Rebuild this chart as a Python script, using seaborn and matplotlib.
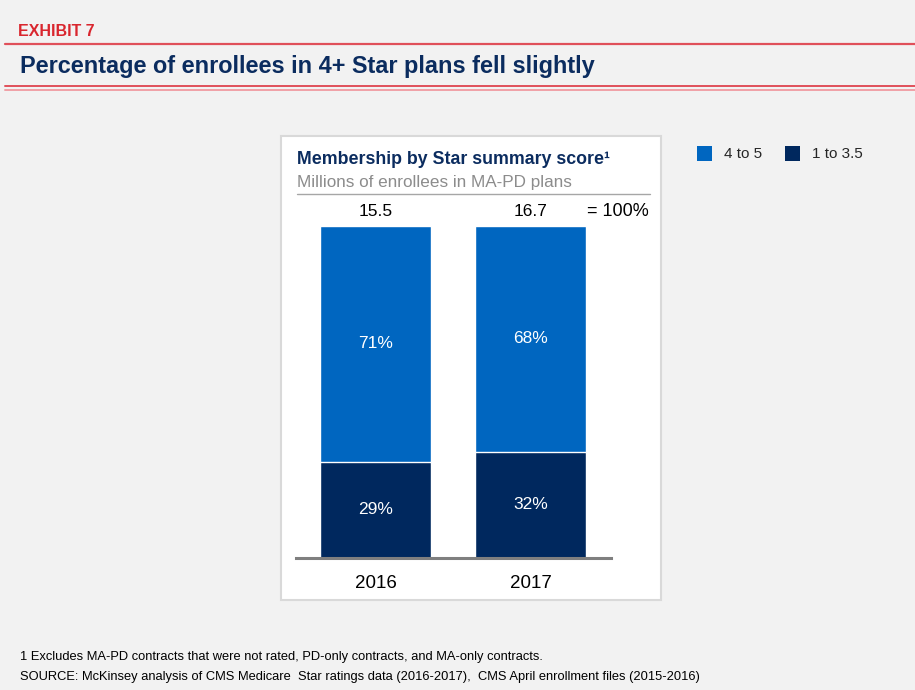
import matplotlib
matplotlib.use("Agg")
import matplotlib.pyplot as plt
from matplotlib.patches import Rectangle
from matplotlib.lines import Line2D
from matplotlib import font_manager
import seaborn as sns
import pandas as pd

# ---- data ----
years = ["2016", "2017"]
totals = [15.5, 16.7]            # millions of enrollees (= 100%)
share_4_to_5 = [71, 68]          # % in 4-5 star plans
share_1_to_35 = [29, 32]         # % in 1-3.5 star plans
series_names = ["4 to 5", "1 to 3.5"]

BLUE = "#0066C0"
NAVY = "#00285E"
TITLE_NAVY = "#0B2C5F"
RED = "#D9262E"

sns.set_theme(style="white")
names = {f.name for f in font_manager.fontManager.ttflist}
base = "Liberation Sans" if "Liberation Sans" in names else "DejaVu Sans"
narrow = "Liberation Sans Narrow" if "Liberation Sans Narrow" in names else base
plt.rcParams["font.family"] = [base, "DejaVu Sans"]

W, H = 915, 690
fig = plt.figure(figsize=(W / 100, H / 100), dpi=100)
fig.patch.set_facecolor("#F2F2F2")

def fx(px):
    return px / W

def fy(py):
    return 1 - py / H

# header
fig.text(fx(18), fy(32), "EXHIBIT 7", color=RED, fontsize=11.5, fontweight="bold",
         family=[narrow, base], va="center", ha="left")
fig.add_artist(Line2D([fx(5), fx(915)], [fy(44), fy(44)], color="#E0505A", lw=1.6))
fig.text(fx(20), fy(67), "Percentage of enrollees in 4+ Star plans fell slightly",
         color=TITLE_NAVY, fontsize=16.9, fontweight="bold", va="center", ha="left")
fig.add_artist(Line2D([fx(5), fx(915)], [fy(86), fy(86)], color="#E0505A", lw=1.4))
fig.add_artist(Line2D([fx(5), fx(915)], [fy(89.5), fy(89.5)], color="#F0A0A6", lw=1.4))

# chart panel
fig.add_artist(Rectangle((fx(281), fy(600)), fx(661) - fx(281), fy(136) - fy(600),
                         transform=fig.transFigure, facecolor="white",
                         edgecolor="#D9D9D9", lw=1.5, zorder=0))
fig.text(fx(297), fy(160), "Membership by Star summary score\u00b9", color=TITLE_NAVY,
         fontsize=12.8, fontweight="bold", va="center", ha="left")
fig.text(fx(297), fy(182), "Millions of enrollees in MA-PD plans", color="#8C8C8C",
         fontsize=12.3, va="center", ha="left")
fig.add_artist(Line2D([fx(297), fx(650)], [fy(194), fy(194)], color="#A6A6A6", lw=1.0))

# axes
ax = fig.add_axes([fx(296), fy(558), fx(611) - fx(296), fy(226) - fy(558)])
ax.set_facecolor("none")

df = pd.DataFrame({"year": years, "total_pct": [a + b for a, b in zip(share_4_to_5, share_1_to_35)],
                   "low": share_1_to_35, "high": share_4_to_5})

sns.barplot(data=df, x="year", y="total_pct", color=BLUE, width=0.716, ax=ax,
            saturation=1, edgecolor="white", linewidth=1.0, zorder=2)
sns.barplot(data=df, x="year", y="low", color=NAVY, width=0.716, ax=ax,
            saturation=1, edgecolor="white", linewidth=1.0, zorder=3)

ax.set_xlim(-0.513, 1.519)
ax.set_ylim(0, 100)
ax.set_xlabel("")
ax.set_ylabel("")
ax.set_yticks([])
ax.tick_params(axis="x", length=0, labelsize=13.5, pad=12, labelcolor="black")
for s in ["top", "left", "right"]:
    ax.spines[s].set_visible(False)
ax.spines["bottom"].set_color("#7F7F7F")
ax.spines["bottom"].set_linewidth(2.2)
ax.spines["bottom"].set_zorder(5)

for i in range(len(years)):
    low = share_1_to_35[i]
    high = share_4_to_5[i]
    ax.text(i, low / 2, f"{low}%", color="white", fontsize=12.5, ha="center", va="center", zorder=6)
    ax.text(i, low + high / 2, f"{high}%", color="white", fontsize=12.5, ha="center", va="center", zorder=6)
    ax.text(i, 102, f"{totals[i]}", color="black", fontsize=12.5, ha="center", va="bottom",
            clip_on=False)
ax.text(1.364, 101.7, "= 100%", color="black", fontsize=13, ha="left", va="bottom", clip_on=False)

# legend
for x0, col, lab in [(697, BLUE, series_names[0]), (785, NAVY, series_names[1])]:
    fig.add_artist(Rectangle((fx(x0), fy(161)), fx(15), fy(146) - fy(161),
                             transform=fig.transFigure, facecolor=col, edgecolor="none"))
    fig.text(fx(x0 + 27), fy(154), lab, color="#262626", fontsize=11, va="center", ha="left")

# footnotes
fig.text(fx(20), fy(657), "1 Excludes MA-PD contracts that were not rated, PD-only contracts, and MA-only contracts.",
         fontsize=9.3, family=[narrow, base], va="center", ha="left", color="black")
fig.text(fx(20), fy(677), "SOURCE: McKinsey analysis of CMS Medicare  Star ratings data (2016-2017),  CMS April enrollment files (2015-2016)",
         fontsize=9.3, family=[narrow, base], va="center", ha="left", color="black")

fig.savefig("out.png", dpi=100, facecolor=fig.get_facecolor())
